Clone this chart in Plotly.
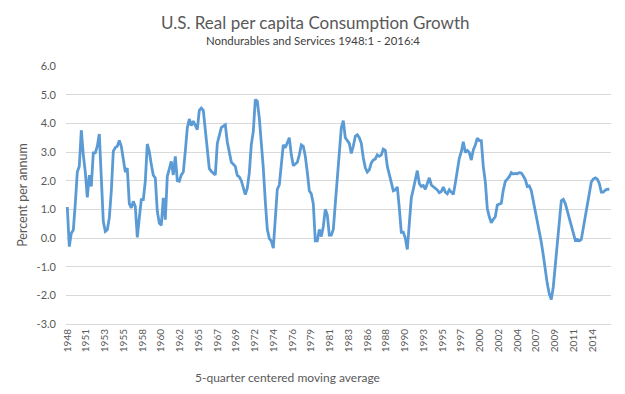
import numpy as np
import plotly.graph_objects as go

# 5-quarter centered moving average, quarterly, 1948:3 .. 2016:2 (percent per annum)
growth = [
    1.08, -0.3, 0.17, 0.28, 1.2, 2.3, 2.5, 3.76, 2.9, 2.3,
    1.42, 2.19, 1.8, 2.97, 2.97, 3.2, 3.63, 1.86, 0.58, 0.23,
    0.29, 0.7, 1.63, 3.02, 3.16, 3.2, 3.4, 3.2, 2.67, 2.3,
    2.44, 1.2, 1.05, 1.28, 1.1, 0.02, 0.7, 1.34, 1.34, 1.98,
    3.28, 3.02, 2.56, 2.19, 2.09,
    0.93, 0.52, 0.44, 1.4, 0.64, 2.15, 2.44, 2.67, 2.2, 2.85,
    2.0, 1.98, 2.2, 2.3, 3.02, 3.84, 4.15, 3.92, 4.08, 3.9,
    3.78, 4.45, 4.53, 4.45, 3.8, 3.0, 2.42, 2.33, 2.25, 2.2,
    3.3, 3.6, 3.85, 3.9, 3.95, 3.35, 2.95, 2.65, 2.57, 2.5,
    2.18, 2.13, 2.0, 1.7, 1.51,
    1.74, 2.27, 3.26, 3.72, 4.83, 4.77, 4.19, 3.37, 2.44, 1.28,
    0.3, -0.02, -0.1, -0.35, 0.6, 1.7, 1.85, 2.5, 3.25, 3.15,
    3.3, 3.5, 2.9, 2.52, 2.58, 2.64, 2.9, 3.25, 3.2, 2.85,
    2.3, 1.65, 1.54, 1.2, -0.1, -0.1, 0.3, 0.05, 0.4, 1.0,
    0.8, 0.1, 0.1, 0.3, 1.2,
    2.2, 3.2, 3.85, 4.09, 3.5, 3.4, 3.3, 2.95, 3.2, 3.55,
    3.6, 3.5, 3.3, 2.8, 2.45, 2.3, 2.38, 2.62, 2.72, 2.76,
    2.9, 2.85, 2.9, 3.1, 3.06, 2.5, 2.2, 2.0, 1.65, 1.68,
    1.78, 1.05, 0.2, 0.2, 0.0, -0.4, 0.5, 1.4, 1.7, 2.1,
    2.35, 1.9, 1.8,
    1.83, 1.7, 1.9, 2.1, 1.85, 1.8, 1.75, 1.68, 1.58, 1.62,
    1.78, 1.6, 1.54, 1.68, 1.6, 1.52, 1.91, 2.37, 2.78, 3.01,
    3.36, 2.98, 3.05, 2.98, 2.72, 3.07, 3.24, 3.48, 3.4, 3.4,
    2.49, 1.97, 1.03, 0.74, 0.53, 0.65, 0.74, 1.15, 1.19, 1.21,
    1.67, 1.97, 2.05, 2.14, 2.28, 2.23, 2.25,
    2.24, 2.28, 2.27, 2.16, 2.04, 1.8, 1.82, 1.65, 1.3, 0.95,
    0.6, 0.15, -0.15, -0.6, -1.2, -1.6, -1.95, -2.15, -1.7, -0.9,
    -0.05, 0.8, 1.3, 1.35, 1.2, 0.95, 0.67, 0.38, 0.15, -0.08,
    -0.05, -0.1, -0.05, 0.35, 0.75, 1.05, 1.45, 1.95, 2.06, 2.1,
    2.05, 1.9, 1.6, 1.6, 1.67, 1.7, 1.7,
]

year_labels = ["1948", "1951", "1953", "1955", "1958", "1960", "1962", "1965",
               "1967", "1969", "1972", "1974", "1976", "1979", "1981", "1983",
               "1986", "1988", "1990", "1993", "1995", "1997", "2000", "2002",
               "2004", "2007", "2009", "2011", "2014"]

y_ticks = [-3, -2, -1, 0, 1, 2, 3, 4, 5, 6]

title_text = "U.S. Real per capita Consumption Growth"
subtitle_text = "Nondurables and Services 1948:1 - 2016:4"
y_title = "Percent per annum"
x_title = "5-quarter centered moving average"

# quarter labels for hover
quarters = []
yr, q = 1948, 3
for _ in growth:
    quarters.append(f"{yr}:{q}")
    q += 1
    if q > 4:
        q = 1
        yr += 1

idx = np.arange(len(growth))
label_step = 9.375  # quarters between successive year labels
tick_pos = np.arange(len(year_labels)) * label_step

FONT = "Lato"
GRAY = "#595959"
GRID = "#D9D9D9"

fig = go.Figure()
fig.add_trace(go.Scatter(
    x=idx, y=growth, mode="lines",
    line=dict(color="#5B9BD5", width=2.8),
    text=quarters, hovertemplate="%{text}: %{y:.1f}<extra></extra>",
    showlegend=False,
))

fig.update_layout(
    width=625, height=394,
    paper_bgcolor="white", plot_bgcolor="white",
    margin=dict(l=66, r=14, t=66, b=70),
    font=dict(family=FONT, color=GRAY, size=11),
    xaxis=dict(
        range=[-0.65, len(growth) - 1 + 0.85],
        tickmode="array", tickvals=tick_pos, ticktext=year_labels,
        tickangle=-90, showgrid=False, zeroline=False,
        showline=True, linecolor=GRID, linewidth=1,
        ticks="", tickfont=dict(size=10, color=GRAY, family=FONT),
    ),
    yaxis=dict(
        range=[-3, 6], tickmode="array", tickvals=y_ticks,
        ticktext=[f"{v:.1f}" for v in y_ticks],
        showgrid=True, gridcolor=GRID, gridwidth=1,
        zeroline=False, showline=False, ticks="",
        ticklabelstandoff=9,
        tickfont=dict(size=11, color=GRAY, family=FONT),
    ),
    annotations=[
        dict(text=title_text, xref="paper", yref="paper", x=0.457, y=1.17,
             xanchor="center", yanchor="middle", showarrow=False,
             font=dict(size=17, color=GRAY, family=FONT)),
        dict(text=subtitle_text, xref="paper", yref="paper", x=0.454, y=1.097,
             xanchor="center", yanchor="middle", showarrow=False,
             font=dict(size=11.4, color="#404040", family=FONT)),
        dict(text=y_title, xref="paper", yref="paper", x=-0.081, y=0.5,
             xanchor="center", yanchor="middle", textangle=-90, showarrow=False,
             font=dict(size=12.5, color=GRAY, family=FONT)),
        dict(text=x_title, xref="paper", yref="paper", x=0.406, y=-0.209,
             xanchor="center", yanchor="middle", showarrow=False,
             font=dict(size=12, color=GRAY, family=FONT)),
    ],
)

fig.write_html("out.html", config={"displayModeBar": False},
               post_script="document.body.style.margin='0';")
